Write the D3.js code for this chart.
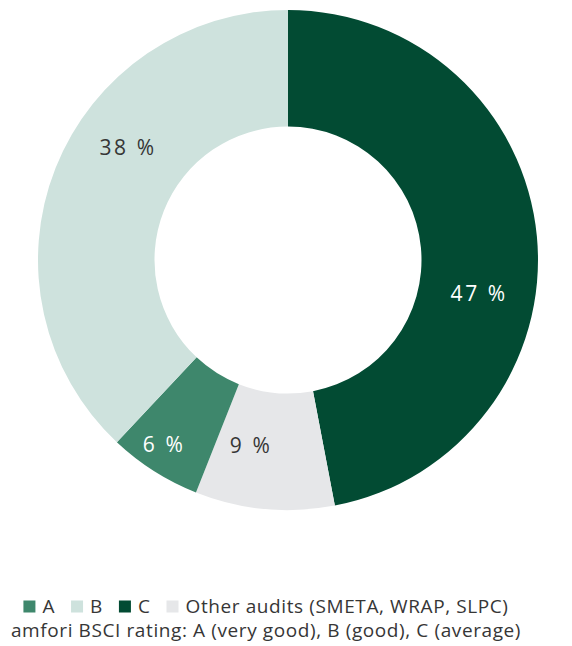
<!DOCTYPE html>
<html>
<head>
<meta charset="utf-8">
<script src="https://cdn.jsdelivr.net/npm/d3@7"></script>
<style>
  html, body { margin: 0; padding: 0; background: #fff; }
  svg { display: block; }
  text { font-family: "Open Sans", "Noto Sans", sans-serif; }
</style>
</head>
<body>
<svg id="chart" width="572" height="646"></svg>
<script>
// Audit result shares (in %), clockwise from 12 o'clock
const categories = ["C", "Other audits (SMETA, WRAP, SLPC)", "A", "B"];
const shares = [47, 9, 6, 38];
const valueLabels = ["47 %", "9 %", "6 %", "38 %"];

// Legend order and footnote
const legendKeys = ["A", "B", "C", "Other audits (SMETA, WRAP, SLPC)"];
const legendLabels = ["A", "B", "C", "Other audits (SMETA, WRAP, SLPC)"];
const footnote = "amfori BSCI rating: A (very good), B (good), C (average)";

const palette = {
  "A": "#3e876c",
  "B": "#cee2dd",
  "C": "#024b33",
  "Other audits (SMETA, WRAP, SLPC)": "#e6e7e9"
};
const labelInk = {
  "A": "#ffffff",
  "B": "#363636",
  "C": "#ffffff",
  "Other audits (SMETA, WRAP, SLPC)": "#363636"
};
// where along each slice (fraction of its sweep) and at what radius its label sits
const labelSpot = {
  "C": [0.59, 194],
  "Other audits (SMETA, WRAP, SLPC)": [0.68, 189],
  "A": [0.57, 222],
  "B": [0.60, 196]
};

const svg = d3.select("#chart");
const cx = 288, cy = 260, outerR = 250, innerR = 133.5;

const data = categories.map((c, i) => ({ key: c, value: shares[i], label: valueLabels[i] }));

const pie = d3.pie().value(d => d.value).sort(null);
const arc = d3.arc().innerRadius(innerR).outerRadius(outerR);
const arcs = pie(data);

const g = svg.append("g").attr("transform", `translate(${cx},${cy})`);

g.selectAll("path.slice")
  .data(arcs)
  .join("path")
  .attr("class", "slice")
  .attr("d", arc)
  .attr("fill", d => palette[d.data.key]);

g.selectAll("text.value")
  .data(arcs)
  .join("text")
  .attr("class", "value")
  .attr("transform", d => {
    const [t, r] = labelSpot[d.data.key];
    const a = d.startAngle + t * (d.endAngle - d.startAngle);
    return `translate(${r * Math.sin(a)},${-r * Math.cos(a)})`;
  })
  .attr("text-anchor", "middle")
  .attr("dominant-baseline", "central")
  .attr("font-size", 21)
  .attr("letter-spacing", 2.6)
  .attr("fill", d => labelInk[d.data.key])
  .text(d => d.data.label);

// Legend: one centred row of swatches, then the rating footnote
const legend = svg.append("g").attr("class", "legend");
const fs = 19, ls = 0.6, sw = 12, gapSw = 7, gapItem = 16;
const items = legend.selectAll("g.item")
  .data(legendKeys)
  .join("g")
  .attr("class", "item");
items.append("rect")
  .attr("width", sw).attr("height", sw)
  .attr("y", -sw - 0.5)
  .attr("fill", d => palette[d]);
items.append("text")
  .attr("x", sw + gapSw)
  .attr("font-size", fs)
  .attr("letter-spacing", ls)
  .attr("fill", "#363636")
  .text((d, i) => legendLabels[i]);

let x = 0;
const widths = [];
items.each(function () {
  const w = sw + gapSw + this.querySelector("text").getComputedTextLength();
  widths.push(w);
});
const total = d3.sum(widths) + gapItem * (widths.length - 1);
x = 266 - total / 2;
items.attr("transform", (d, i) => {
  const tx = x;
  x += widths[i] + gapItem;
  return `translate(${tx},613)`;
});

svg.append("text")
  .attr("x", 266)
  .attr("y", 637)
  .attr("text-anchor", "middle")
  .attr("font-size", fs)
  .attr("letter-spacing", ls)
  .attr("fill", "#363636")
  .text(footnote);
</script>
</body>
</html>
